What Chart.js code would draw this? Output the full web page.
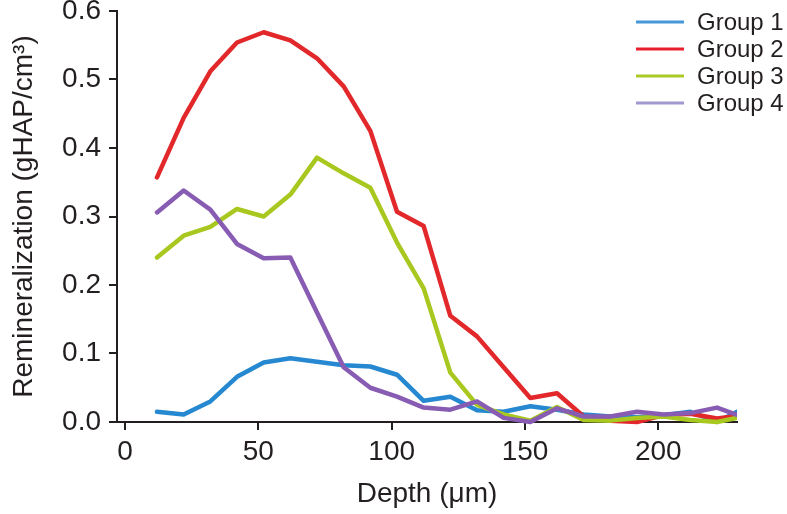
<!DOCTYPE html>
<html>
<head>
<meta charset="utf-8">
<script src="https://cdn.jsdelivr.net/npm/chart.js@4.4.1/dist/chart.umd.min.js"></script>
<style>
  html, body { margin: 0; padding: 0; background: #fff; }
  #wrap { width: 787px; height: 514px; position: relative; }
</style>
</head>
<body>
<div id="wrap"><canvas id="chart"></canvas></div>
<script>
// depth of each measurement (µm)
const depths = [12, 22, 32, 42, 52, 62, 72, 82, 92, 102, 112, 122, 132, 142, 152, 162, 172, 182, 192, 202, 212, 222, 232];

const group1 = [0.015, 0.011, 0.030, 0.066, 0.087, 0.093, 0.088, 0.083, 0.081, 0.069, 0.031, 0.037, 0.017, 0.015, 0.023, 0.018, 0.011, 0.008, 0.007, 0.010, 0.015, 0.000, 0.020];
const group2 = [0.357, 0.444, 0.512, 0.554, 0.569, 0.557, 0.531, 0.490, 0.425, 0.307, 0.286, 0.155, 0.125, 0.080, 0.035, 0.042, 0.008, 0.002, 0.000, 0.010, 0.012, 0.005, 0.010];
const group3 = [0.240, 0.272, 0.285, 0.311, 0.300, 0.332, 0.386, 0.363, 0.342, 0.262, 0.195, 0.072, 0.025, 0.011, 0.002, 0.022, 0.003, 0.002, 0.006, 0.008, 0.003, 0.000, 0.008];
const group4 = [0.306, 0.338, 0.310, 0.260, 0.239, 0.240, 0.160, 0.080, 0.050, 0.037, 0.021, 0.018, 0.030, 0.006, 0.000, 0.020, 0.008, 0.008, 0.015, 0.011, 0.013, 0.021, 0.007];

const groupNames = ['Group 1', 'Group 2', 'Group 3', 'Group 4'];
const xTickValues = [0, 50, 100, 150, 200];
const yTickValues = [0, 0.1, 0.2, 0.3, 0.4, 0.5, 0.6];

const lineColors = ['rgb(38,136,208)', 'rgb(226,40,42)', 'rgb(168,200,32)', 'rgb(136,92,178)'];
const legendColors = ['rgb(70,152,216)', 'rgb(232,32,44)', 'rgb(170,202,40)', 'rgb(162,152,206)'];

const ink = '#231f20';
const FONT = "'Liberation Sans', Arial, sans-serif";

function pts(vals) {
    return vals.map((v, i) => ({ x: depths[i], y: v }));
}

const series = [group1, group2, group3, group4];

// the legend is drawn at the top right, over the plot area
const cornerLegend = {
    id: 'cornerLegend',
    afterDraw(chart) {
        const ctx = chart.ctx;
        const x0 = chart.width - 151;
        ctx.save();
        chart.data.datasets.forEach((ds, i) => {
            const y = 22 + i * 27;
            ctx.strokeStyle = ds.legendColor;
            ctx.lineWidth = 3;
            ctx.beginPath();
            ctx.moveTo(x0, y);
            ctx.lineTo(x0 + 48, y);
            ctx.stroke();
            ctx.fillStyle = ink;
            ctx.font = '24px ' + FONT;
            ctx.textBaseline = 'middle';
            ctx.textAlign = 'left';
            ctx.fillText(ds.label, x0 + 61, y + 1);
        });
        ctx.restore();
    }
};

const config = {
    type: 'line',
    data: {
        datasets: series.map((vals, i) => ({
            label: groupNames[i],
            data: pts(vals),
            borderColor: lineColors[i],
            legendColor: legendColors[i],
            borderWidth: 4.5,
            pointRadius: 0,
            tension: 0,
            borderJoinStyle: 'round',
            borderCapStyle: 'round',
            fill: false,
            order: 4 - i,
            clip: { left: 0, right: 0, top: 6, bottom: 6 }
        }))
    },
    options: {
        responsive: true,
        maintainAspectRatio: false,
        animation: false,
        layout: { padding: { left: 0, right: 50, top: 11, bottom: 0 } },
        plugins: {
            legend: { display: false },
            tooltip: { enabled: false }
        },
        scales: {
            x: {
                type: 'linear',
                min: -3,
                max: 229.5,
                afterBuildTicks: (scale) => { scale.ticks = xTickValues.map(v => ({ value: v })); },
                afterFit: (scale) => { scale.height = 92; },
                grid: { display: true, drawOnChartArea: false, drawTicks: true, tickLength: 8, tickColor: ink, lineWidth: 2 },
                border: { display: true, color: ink, width: 2 },
                ticks: { color: ink, padding: 5, font: { family: FONT, size: 28 } },
                title: {
                    display: true,
                    text: 'Depth (\u03bcm)',
                    color: ink,
                    font: { family: FONT, size: 28 },
                    padding: { top: 0, bottom: 3 }
                }
            },
            y: {
                min: 0,
                max: 0.6,
                afterBuildTicks: (scale) => { scale.ticks = yTickValues.map(v => ({ value: v })); },
                afterFit: (scale) => { scale.width = 117; scale.paddingTop = 0; scale.paddingBottom = 0; },
                grid: { display: true, drawOnChartArea: false, drawTicks: true, tickLength: 8, tickColor: ink, lineWidth: 2 },
                border: { display: true, color: ink, width: 2 },
                ticks: { color: ink, padding: 8, font: { family: FONT, size: 28 }, callback: (v) => v.toFixed(1) },
                title: {
                    display: true,
                    text: 'Remineralization (gHAP/cm\u00b3)',
                    color: ink,
                    font: { family: FONT, size: 28 },
                    padding: { top: 7, bottom: 0 }
                }
            }
        }
    },
    plugins: [cornerLegend]
};

new Chart(document.getElementById('chart'), config);
</script>
</body>
</html>
